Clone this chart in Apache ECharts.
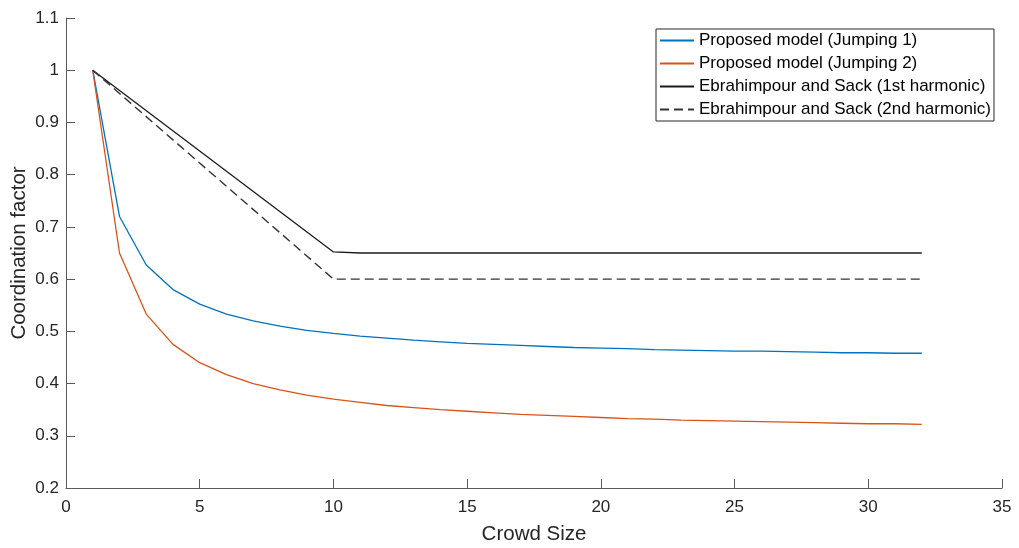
<!DOCTYPE html>
<html>
<head>
<meta charset="utf-8">
<script src="https://cdn.jsdelivr.net/npm/echarts@6/dist/echarts.min.js"></script>
<style>
html,body{margin:0;padding:0;background:#fff;}
#chart{width:1019px;height:548px;}
</style>
</head>
<body>
<div id="chart"></div>
<script>
// Crowd sizes 1..32
var crowdSize = [1,2,3,4,5,6,7,8,9,10,11,12,13,14,15,16,17,18,19,20,21,22,23,24,25,26,27,28,29,30,31,32];
var jumping1 = [1.000,0.720,0.627,0.580,0.552,0.533,0.520,0.510,0.502,0.496,0.491,0.487,0.483,0.480,0.477,0.475,
                0.473,0.471,0.469,0.468,0.467,0.465,0.464,0.463,0.462,0.462,0.461,0.460,0.459,0.459,0.458,0.458];
var jumping2 = [1.000,0.650,0.533,0.475,0.440,0.417,0.400,0.388,0.378,0.370,0.364,0.358,0.354,0.350,0.347,0.344,
                0.341,0.339,0.337,0.335,0.333,0.332,0.330,0.329,0.328,0.327,0.326,0.325,0.324,0.323,0.323,0.322];
// Ebrahimpour and Sack: piecewise-linear vertices
var es1X = [1, 10, 11, 32];
var es1Y = [1.000, 0.652, 0.650, 0.650];
var es2X = [1, 10, 32];
var es2Y = [1.000, 0.600, 0.600];
var seriesNames = ['Proposed model (Jumping 1)','Proposed model (Jumping 2)','Ebrahimpour and Sack (1st harmonic)','Ebrahimpour and Sack (2nd harmonic)'];

function pairs(xs, ys){ return xs.map(function(x,i){ return [x, ys[i]]; }); }

var FONT = 'Liberation Sans, Arial, Helvetica, sans-serif';
var TXT = '#262626';
var AX = '#5a5a5a';

var chart = echarts.init(document.getElementById('chart'), null, {renderer:'canvas'});
chart.setOption({
  animation:false,
  backgroundColor:'#fff',
  textStyle:{fontFamily:FONT},
  grid:{left:66, right:17, top:18, bottom:60, containLabel:false, outerBoundsMode:'none'},
  legend:{
    orient:'vertical', left:656, top:29,
    padding:[3,3,3,3],
    itemWidth:34, itemHeight:14, itemGap:6,
    borderColor:'#262626', borderWidth:1, backgroundColor:'#fff',
    itemStyle:{color:'rgba(0,0,0,0)', borderColor:'rgba(0,0,0,0)', borderWidth:0},
    textStyle:{fontFamily:FONT, fontSize:17, color:'#000'},
    data:seriesNames
  },
  xAxis:{
    type:'value', min:0, max:35, interval:5,
    name:'Crowd Size', nameLocation:'middle', nameGap:36, nameMoveOverlap:false,
    nameTextStyle:{fontFamily:FONT, fontSize:20.5, color:TXT},
    axisLine:{show:true, onZero:false, lineStyle:{color:AX, width:1}},
    axisTick:{show:true, inside:true, length:9, lineStyle:{color:AX}},
    axisLabel:{fontFamily:FONT, fontSize:17, color:TXT, margin:11},
    splitLine:{show:false}
  },
  yAxis:{
    type:'value', min:0.2, max:1.1, interval:0.1,
    name:'Coordination factor', nameLocation:'middle', nameGap:36, nameMoveOverlap:false,
    nameTextStyle:{fontFamily:FONT, fontSize:20.5, color:TXT},
    axisLine:{show:true, onZero:false, lineStyle:{color:AX, width:1}},
    axisTick:{show:true, inside:true, length:9, lineStyle:{color:AX}},
    axisLabel:{fontFamily:FONT, fontSize:17, color:TXT, margin:7},
    splitLine:{show:false}
  },
  series:[
    {name:seriesNames[0], type:'line', symbol:'none', data:pairs(crowdSize, jumping1),
     lineStyle:{color:'#0072BD', width:1.3}, itemStyle:{color:'#0072BD'}},
    {name:seriesNames[1], type:'line', symbol:'none', data:pairs(crowdSize, jumping2),
     lineStyle:{color:'#D95319', width:1.3}, itemStyle:{color:'#D95319'}},
    {name:seriesNames[2], type:'line', symbol:'none', data:pairs(es1X, es1Y),
     lineStyle:{color:'#1a1a1a', width:1.3}, itemStyle:{color:'#1a1a1a'}},
    {name:seriesNames[3], type:'line', symbol:'none', data:pairs(es2X, es2Y),
     lineStyle:{color:'#333', width:1.4, type:[9,5]}, itemStyle:{color:'#333'}}
  ]
});
</script>
</body>
</html>
